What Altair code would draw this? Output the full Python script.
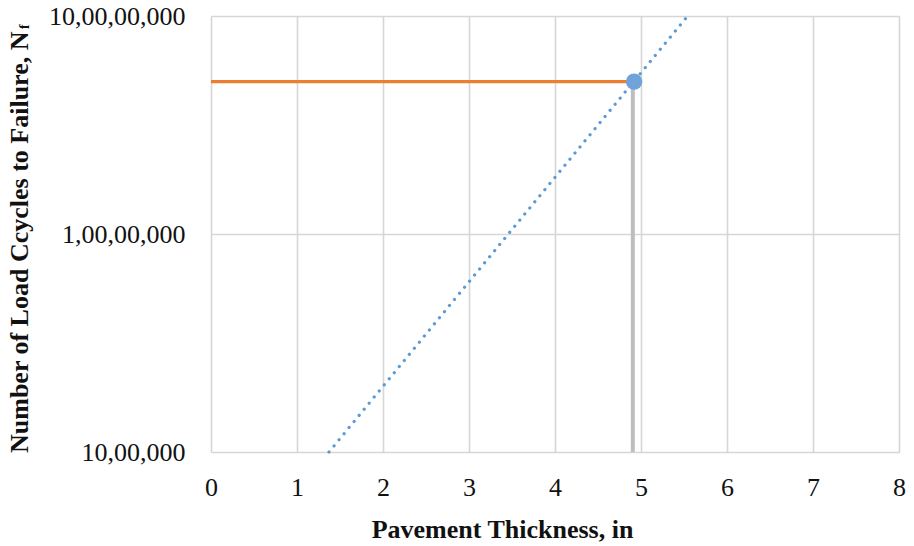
import altair as alt
import pandas as pd

# Design threshold: required number of load cycles
threshold_x = [0.0, 4.92]
threshold_n = [5.0e7, 5.0e7]

# Fatigue relationship (log-linear trendline) between thickness and cycles
trend_x = [1.372, 5.543]
trend_n = [1.0e6, 1.0e8]

# Required pavement thickness read at the threshold
design_x = [4.92]
design_n = [5.0e7]
drop_x = [4.905, 4.905]
drop_n = [1.0e6, 5.0e7]

x_ticks = [0, 1, 2, 3, 4, 5, 6, 7, 8]
y_ticks = [1.0e6, 1.0e7, 1.0e8]
y_tick_labels = ["10,00,000", "1,00,00,000", "10,00,00,000"]

SERIF = "Liberation Serif, Times New Roman, serif"
GRID = "#d6d6d6"
ORANGE = "#ED7D31"
BLUE = "#5B9BD5"
POINT_BLUE = "#6FA3DA"
DROP_GREY = "#bdbdbd"

label_expr = " : ".join(
    f"abs(datum.value - {v:.0f}) < 1 ? '{lab}'" for v, lab in zip(y_ticks, y_tick_labels)
) + " : ''"

x_scale = alt.Scale(domain=[0, 8], nice=False, zero=False)
y_scale = alt.Scale(type="log", domain=[1.0e6, 1.0e8], nice=False)

x_axis = alt.Axis(
    title="Pavement Thickness, in",
    values=x_ticks,
    format="d",
    grid=True,
    gridColor=GRID,
    gridWidth=1.6,
    domain=False,
    ticks=False,
    labelFont=SERIF,
    labelFontSize=26,
    labelColor="#111111",
    labelPadding=22,
    labelFlush=False,
    titleFont=SERIF,
    titleFontSize=26,
    titleFontWeight="bold",
    titleColor="#111111",
    titleX=291,
    titleY=85,
    titleAlign="center",
    titleBaseline="alphabetic",
)

y_axis = alt.Axis(
    title="Number of Load Ccycles to Failure, N",
    values=y_ticks,
    labelExpr=label_expr,
    grid=True,
    gridColor=GRID,
    gridWidth=1.6,
    domain=False,
    ticks=False,
    labelFont=SERIF,
    labelFontSize=26,
    labelColor="#111111",
    labelPadding=26,
    labelFlush=False,
    labelOverlap=False,
    titleFont=SERIF,
    titleFontSize=26,
    titleFontWeight="bold",
    titleColor="#111111",
    titleAngle=270,
    titleX=-184,
    titleY=15,
    titleAlign="right",
    titleBaseline="alphabetic",
)

drop_df = pd.DataFrame({"x": drop_x[:1], "y": drop_n[0:1], "y2": drop_n[1:2]})
threshold_df = pd.DataFrame({"x": threshold_x, "y": threshold_n})
trend_df = pd.DataFrame({"x": trend_x, "y": trend_n})
design_df = pd.DataFrame({"x": design_x, "y": design_n})

drop_rule = alt.Chart(drop_df).mark_rule(color=DROP_GREY, strokeWidth=4).encode(
    x=alt.X("x:Q", scale=x_scale, axis=x_axis),
    y=alt.Y("y:Q", scale=y_scale, axis=y_axis),
    y2="y2:Q",
)

threshold_line = alt.Chart(threshold_df).mark_line(color=ORANGE, strokeWidth=3.2).encode(
    x=alt.X("x:Q", scale=x_scale),
    y=alt.Y("y:Q", scale=y_scale),
)

trend_line = alt.Chart(trend_df).mark_line(
    color=BLUE, strokeWidth=3.2, strokeDash=[0.1, 7.8], strokeCap="round"
).encode(
    x=alt.X("x:Q", scale=x_scale),
    y=alt.Y("y:Q", scale=y_scale),
)

design_point = alt.Chart(design_df).mark_circle(color=POINT_BLUE, opacity=1, size=270).encode(
    x=alt.X("x:Q", scale=x_scale),
    y=alt.Y("y:Q", scale=y_scale),
)

# Subscript "f" for N_f in the rotated y-axis title
subscript = alt.Chart(pd.DataFrame({"t": ["f"]})).mark_text(
    font=SERIF,
    fontSize=14,
    fontWeight="bold",
    color="#111111",
    angle=270,
    align="left",
    baseline="alphabetic",
).encode(
    x=alt.value(-182),
    y=alt.value(13),
    text="t:N",
)

chart = (
    alt.layer(drop_rule, threshold_line, trend_line, design_point, subscript)
    .properties(
        width=688,
        height=436,
        autosize=alt.AutoSizeParams(type="none"),
        padding={"left": 211, "top": 16, "right": 15, "bottom": 94},
    )
    .configure_view(stroke=None)
    .configure(background="white")
)

chart.save("out.html", embed_options={"renderer": "svg", "actions": False})
